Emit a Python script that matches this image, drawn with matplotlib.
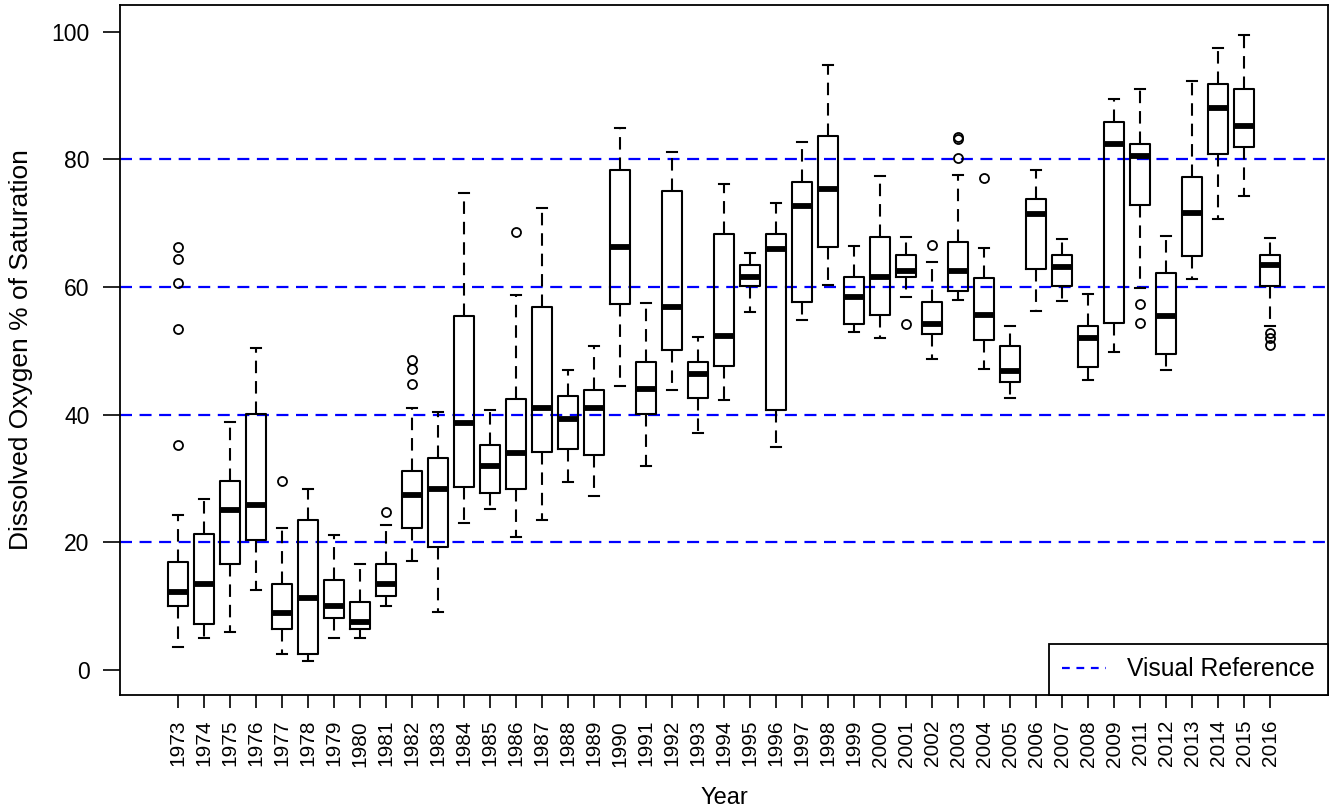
import numpy as np
import matplotlib
matplotlib.use("Agg")
import matplotlib.pyplot as plt
from matplotlib.lines import Line2D

plt.rcParams['font.family'] = ['Liberation Sans', 'DejaVu Sans']

# data
years = [1973, 1974, 1975, 1976, 1977, 1978, 1979, 1980, 1981, 1982, 1983,
         1984, 1985, 1986, 1987, 1988, 1989, 1990, 1991, 1992, 1993, 1994,
         1995, 1996, 1997, 1998, 1999, 2000, 2001, 2002, 2003, 2004, 2005,
         2006, 2007, 2008, 2009, 2011, 2012, 2013, 2014, 2015, 2016]
whislo = [3.6, 5.1, 6.0, 12.5, 2.6, 1.4, 5.1, 5.1, 10.1, 17.1, 9.1,
          23.1, 25.3, 20.9, 23.5, 29.4, 27.2, 44.5, 31.9, 43.9, 37.1, 42.3,
          56.1, 34.9, 54.9, 60.3, 53.0, 52.0, 58.5, 48.7, 58.0, 47.1, 42.7,
          56.3, 57.9, 45.5, 49.8, 59.8, 47.0, 61.3, 70.6, 74.3, 53.9]
q1 = [10.0, 7.3, 16.6, 20.4, 6.4, 2.6, 8.2, 6.4, 11.6, 22.2, 19.3,
      28.7, 27.8, 28.4, 34.2, 34.6, 33.7, 57.3, 40.2, 50.2, 42.7, 47.6,
      60.2, 40.8, 57.6, 66.3, 54.2, 55.7, 61.6, 52.6, 59.4, 51.7, 45.2,
      62.8, 60.2, 47.5, 54.4, 72.8, 49.5, 64.9, 80.8, 82.0, 60.2]
med = [12.3, 13.5, 25.1, 25.9, 8.9, 11.3, 10.1, 7.6, 13.5, 27.5, 28.4,
       38.7, 31.9, 34.0, 41.1, 39.3, 41.1, 66.3, 44.0, 56.9, 46.4, 52.4,
       61.6, 66.0, 72.7, 75.3, 58.5, 61.6, 62.5, 54.2, 62.5, 55.7, 46.9,
       71.4, 63.1, 52.1, 82.4, 80.6, 55.4, 71.6, 88.0, 85.2, 63.5]
q3 = [16.9, 21.3, 29.6, 40.2, 13.5, 23.5, 14.1, 10.7, 16.6, 31.2, 33.3,
      55.4, 35.2, 42.4, 56.9, 42.9, 43.9, 78.4, 48.2, 75.0, 48.2, 68.4,
      63.5, 68.4, 76.5, 83.6, 61.6, 67.9, 65.0, 57.6, 67.1, 61.5, 50.8,
      73.8, 65.0, 53.9, 85.8, 82.4, 62.2, 77.2, 91.8, 91.1, 65.0]
whishi = [24.3, 26.8, 38.9, 50.4, 22.2, 28.3, 21.2, 16.6, 22.7, 41.1, 40.4,
          74.7, 40.8, 58.7, 72.4, 47.0, 50.7, 85.0, 57.5, 81.2, 52.2, 76.1,
          65.3, 73.2, 82.8, 94.8, 66.5, 77.4, 67.9, 64.0, 77.6, 66.2, 53.9,
          78.3, 67.5, 59.0, 89.5, 91.0, 68.0, 92.3, 97.4, 99.5, 67.7]
fliers = {
    1973: [35.2, 53.5, 60.7, 64.4, 66.3],
    1977: [29.6],
    1981: [24.7],
    1982: [44.8, 47.1, 48.6],
    1986: [68.7],
    2001: [54.2],
    2002: [66.6],
    2003: [80.3, 83.2, 83.5],
    2004: [77.1],
    2011: [54.4, 57.3],
    2016: [51.0, 52.0, 52.8],
}
ref_levels = [20, 40, 60, 80]

stats = []
for i, yr in enumerate(years):
    stats.append(dict(label=str(yr), whislo=whislo[i], q1=q1[i], med=med[i],
                      q3=q3[i], whishi=whishi[i], fliers=fliers.get(yr, [])))

fig = plt.figure(figsize=(13.3, 8.08), dpi=100)
ax = fig.add_axes([120 / 1330, 1 - 695 / 808, 1208 / 1330, 690 / 808])

pos = np.arange(1, len(years) + 1)

ax.bxp(stats, positions=pos, widths=0.8, capwidths=0.4, manage_ticks=False,
       boxprops=dict(color='black', linewidth=1.5),
       whiskerprops=dict(color='black', linewidth=1.5, linestyle=(0, (6, 3.8))),
       capprops=dict(color='black', linewidth=1.5),
       medianprops=dict(color='black', linewidth=4.2, solid_capstyle='butt'),
       flierprops=dict(marker='o', markersize=6.5, markerfacecolor='none',
                       markeredgecolor='black', markeredgewidth=1.3))

for lv in ref_levels:
    ax.axhline(lv, color='#0000ff', linewidth=1.6, linestyle=(0, (5.4, 3.4)),
               zorder=1)

ax.set_xlim(-1.23, 45.23)
ax.set_ylim(-3.9, 104.2)

ax.set_yticks([0, 20, 40, 60, 80, 100])
ax.set_yticklabels(['0', '20', '40', '60', '80', '100'], fontsize=16.5)
ax.tick_params(axis='y', length=12, width=1.2, pad=10)
ax.set_xticks(pos)
ax.set_xticklabels([str(y) for y in years], rotation=90, fontsize=15)
ax.tick_params(axis='x', length=9, width=1.2, pad=9)

for sp in ax.spines.values():
    sp.set_linewidth(1.3)
    sp.set_color('black')

fig.text(21 / 1330, 1 - 350 / 808, 'Dissolved Oxygen % of Saturation',
         rotation=90, ha='center', va='center', fontsize=19)
fig.text(724 / 1330, 1 - 804 / 808, 'Year', ha='center', va='baseline',
         fontsize=17)

handle = Line2D([], [], color='#0000ff', linewidth=1.6, linestyle=(0, (3.5, 3)))
leg = ax.legend([handle], ['Visual Reference'], loc='lower right',
                borderaxespad=0, fancybox=False, framealpha=1,
                edgecolor='black', fontsize=17.8, handlelength=1.75,
                handletextpad=0.85, borderpad=0.55)
leg.get_frame().set_linewidth(1.3)

fig.savefig('out.png', dpi=100)
